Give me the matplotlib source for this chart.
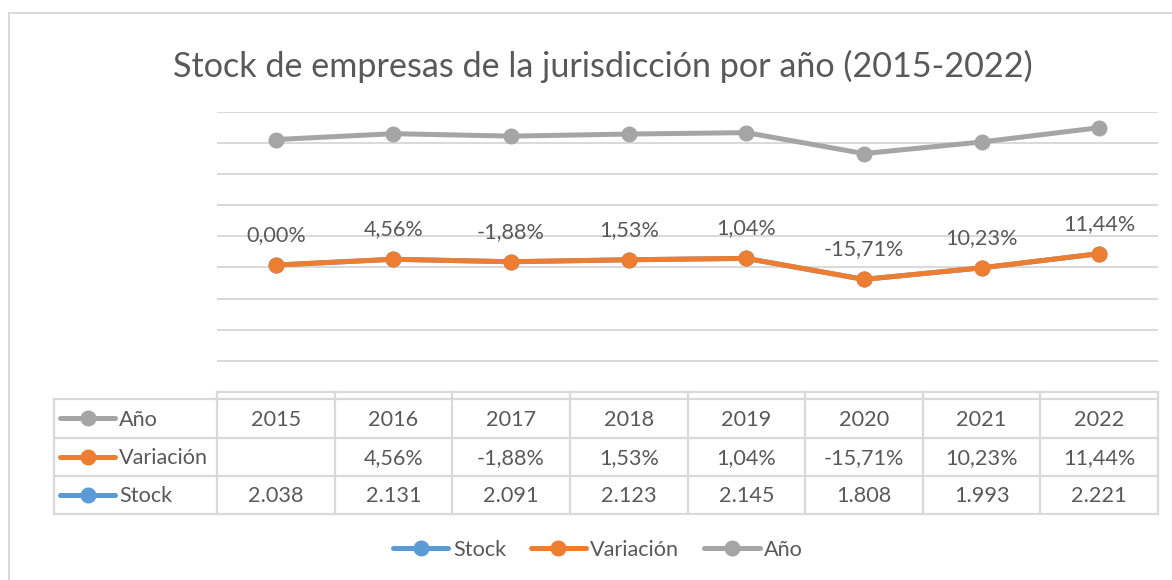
import matplotlib
matplotlib.use('Agg')
import matplotlib.pyplot as plt
from matplotlib.lines import Line2D
from matplotlib.patches import Rectangle

# ---------------- data ----------------
years = [2015, 2016, 2017, 2018, 2019, 2020, 2021, 2022]
stock = [2038, 2131, 2091, 2123, 2145, 1808, 1993, 2221]
variacion = [None, 0.0456, -0.0188, 0.0153, 0.0104, -0.1571, 0.1023, 0.1144]
series_names = ['Stock', 'Variación', 'Año']
title = 'Stock de empresas de la jurisdicción por año (2015-2022)'

colors = ['#5B9BD5', '#ED7D31', '#A5A5A5']
TXT = '#595959'
GRID = '#D9D9D9'

plt.rcParams['font.family'] = ['Lato', 'DejaVu Sans']

W, H = 1172, 580
fig = plt.figure(figsize=(W / 100, H / 100), dpi=100)

# plot area in pixel geometry
PL, PR, PT, PB = 217, 1158, 111.7, 392
ax = fig.add_axes([PL / W, 1 - PB / H, (PR - PL) / W, (PB - PT) / H])

def fx(px):
    return px / W

def fy(py):
    return 1 - py / H

FS = 15.6

x = list(range(len(years)))
var_plot = [v if v is not None else 0 for v in variacion]
# stacked line chart (Excel style)
lvl_stock = stock
lvl_var = [s + v for s, v in zip(stock, var_plot)]
lvl_year = [a + y for a, y in zip(lvl_var, years)]

for vals, c, name in zip([lvl_stock, lvl_var, lvl_year], colors, series_names):
    ax.plot(x, vals, color=c, lw=3.6, marker='o', ms=10.5,
            solid_capstyle='round', label=name, zorder=3)

def fmt_pct(v):
    return f"{v * 100:.2f}%".replace('.', ',')

def fmt_int(v):
    return f"{v:,}".replace(',', '.')

for xi, yv, v in zip(x, lvl_var, var_plot):
    ax.annotate(fmt_pct(v), (xi, yv), xytext=(0, 17.3), textcoords='offset points',
                ha='center', va='baseline', fontsize=FS, color=TXT, zorder=4)

ax.set_xlim(-0.5, len(years) - 0.5)
ax.set_ylim(0, 4500)
ax.set_yticks(range(500, 4501, 500))
ax.yaxis.grid(True, color=GRID, lw=1.4)
ax.set_axisbelow(True)
for sp in ax.spines.values():
    sp.set_visible(False)
ax.tick_params(left=False, bottom=False, labelleft=False, labelbottom=False)

# ---------------- data table ----------------
def hline(x0, x1, y):
    fig.add_artist(Line2D([fx(x0), fx(x1)], [fy(y), fy(y)], color=GRID, lw=1.6,
                          transform=fig.transFigure))

def vline(xp, y0, y1):
    fig.add_artist(Line2D([fx(xp), fx(xp)], [fy(y0), fy(y1)], color=GRID, lw=1.6,
                          transform=fig.transFigure))

TL = 54
rows_y = [399, 437.5, 476, 514]
hline(PL, PR, 392)
for yy in rows_y:
    hline(TL, PR, yy)
vline(TL, 399, 514)
colw = (PR - PL) / len(years)
for k in range(len(years) + 1):
    vline(PL + k * colw, 392, 514)

row_series = [2, 1, 0]  # Año, Variación, Stock
row_values = [
    [str(y) for y in years],
    ['' if v is None else fmt_pct(v) for v in variacion],
    [fmt_int(s) for s in stock],
]
for r, (si, vals) in enumerate(zip(row_series, row_values)):
    yc = (rows_y[r] + rows_y[r + 1]) / 2
    yb = yc + 7.5
    # key
    fig.add_artist(Line2D([fx(60), fx(115)], [fy(yc), fy(yc)], color=colors[si], lw=3.6,
                          solid_capstyle='round', transform=fig.transFigure))
    fig.add_artist(Line2D([fx(87.5)], [fy(yc)], color=colors[si], marker='o', ms=10.5,
                          transform=fig.transFigure))
    fig.text(fx(119), fy(yb), series_names[si], ha='left', va='baseline',
             fontsize=FS, color=TXT)
    for k, s in enumerate(vals):
        fig.text(fx(PL + (k + 0.5) * colw), fy(yb), s, ha='center', va='baseline',
                 fontsize=FS, color=TXT)

# ---------------- legend ----------------
handles, labels = ax.get_legend_handles_labels()
leg = fig.legend(handles, labels, loc='center', bbox_to_anchor=(fx(598), fy(550)),
                 ncol=3, frameon=False, fontsize=FS, handlelength=2.55,
                 handletextpad=0.2, columnspacing=1.15, labelcolor=TXT)

# ---------------- title & border ----------------
fig.text(fx(602.5), fy(77), title, ha='center', va='baseline', fontsize=24.6, color=TXT)
fig.add_artist(Rectangle((fx(8.5), -0.1), 1.5, fy(13) + 0.1, fill=False,
                         edgecolor=GRID, lw=1.4, transform=fig.transFigure))

fig.savefig('out.png', dpi=100, facecolor='white')
